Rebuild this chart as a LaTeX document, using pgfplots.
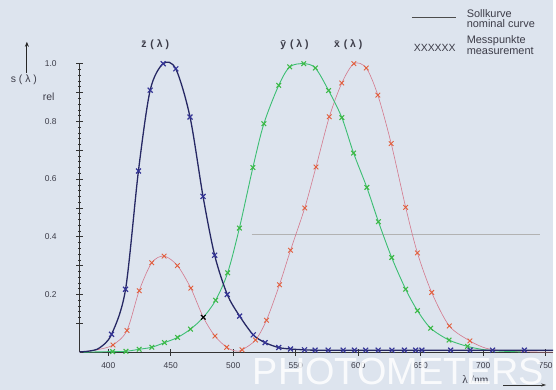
\documentclass[border=0pt]{standalone}
\usepackage{fontspec}
\setmainfont{Liberation Sans}
\newfontfamily\seriffont{Liberation Serif}
\usepackage{pgfplots}
\pgfplotsset{compat=1.18}
\usetikzlibrary{arrows.meta}
\definecolor{bg}{RGB}{221,228,238}
\definecolor{navy}{RGB}{38,40,100}
\definecolor{navymk}{RGB}{52,52,150}
\definecolor{gline}{RGB}{60,190,115}
\definecolor{gmark}{RGB}{60,185,70}
\definecolor{rline}{RGB}{212,120,140}
\definecolor{rmark}{RGB}{226,95,60}
\definecolor{txt}{RGB}{60,60,72}

\begin{document}
\begin{tikzpicture}[x=1pt,y=1pt]
\fill[bg] (0,0) rectangle (556,392);
\draw[black!30, line width=0.5pt] (253,157) -- (543,157);
\begin{axis}[
  at={(80pt,38pt)}, anchor=south west, scale only axis,
  width=476pt, height=290pt,
  xmin=377, xmax=756, ymin=0, ymax=1,
  axis x line=bottom, axis y line=left,
  axis line style={-, black!80, line width=0.8pt},
  xtick={400,450,...,750},
  ytick={0.1,0.2,0.3,0.4,0.5,0.6,0.7,0.8,0.9,1.0},
  yticklabels={,0.2,,0.4,,0.6,,0.8,,1.0},
  minor y tick num=4,
  tick align=center, major tick length=7pt, minor tick length=3pt,
  tick style={black!80, line width=0.6pt},
  every tick label/.append style={font=\fontsize{8.5}{10}\selectfont, text=txt},
  /pgf/number format/assume math mode=true,
  yticklabel style={xshift=-16pt},
  xticklabel style={yshift=-3pt},
  clip=false,
]
% x-bar nominal curve
\addplot[rline, line width=0.6pt, smooth, no marks] coordinates {
(377,0.001) (385,0.004) (393,0.010) (403.7,0.025) (414.9,0.075) (424.7,0.213)
(434.8,0.310) (444.6,0.333) (455.3,0.300) (466.0,0.222) (476.0,0.121)
(485.3,0.056) (494.7,0.017) (502,0.004) (507.0,0.008) (517.8,0.042)
(526.6,0.111) (537.0,0.234) (545.8,0.353) (557.2,0.500) (566.2,0.642)
(576.9,0.816) (586.9,0.933) (596.5,1.000) (606.4,0.985) (615.7,0.891)
(626.4,0.723) (638.0,0.502) (647.4,0.344) (658.8,0.207) (672.9,0.091)
(689.4,0.039) (702,0.014) (715,0.005) (735,0.001) (756,0.000)};
% y-bar nominal curve
\addplot[gline, line width=0.9pt, smooth, no marks] coordinates {
(380,0.000) (392,0.001) (403.4,0.002) (414.1,0.003) (424.7,0.010) (434.8,0.017)
(444.9,0.033) (455.4,0.051) (465.8,0.080) (475.9,0.120) (485.9,0.180)
(495.5,0.275) (504.9,0.430) (515.7,0.640) (524.5,0.792) (536.4,0.925)
(545.2,0.989) (556.4,1.000) (565.7,0.985) (576.3,0.907) (586.9,0.813)
(596.3,0.690) (606.9,0.571) (616.2,0.452) (626.8,0.328) (638.0,0.218)
(647.4,0.144) (658.0,0.083) (672.7,0.042) (687.5,0.020) (700,0.009)
(712,0.004) (730,0.001)};
% z-bar nominal curve
\addplot[navy, line width=1.3pt, smooth, no marks] coordinates {
(377,0.001) (385,0.004) (393,0.015) (402.6,0.062) (413.8,0.218) (424.1,0.628)
(433.5,0.908) (443.9,1.000) (454.0,0.982) (465.4,0.815) (475.8,0.540)
(485.1,0.336) (495.2,0.200) (505.1,0.125) (516.0,0.060) (525.5,0.033)
(536.4,0.016) (545.8,0.011) (557.0,0.008) (565.5,0.007) (600,0.007)
(700,0.007) (756,0.007)};
% measurement points
\addplot[only marks, mark=x, mark size=3.3pt, rmark, mark options={line width=0.9pt}] coordinates {
(403.7,0.025) (414.9,0.075) (424.7,0.213) (434.8,0.310) (444.6,0.333)
(455.3,0.300) (466.0,0.222) (485.3,0.056) (494.7,0.017) (507.0,0.008)
(517.8,0.042) (526.6,0.111) (537.0,0.234) (545.8,0.353) (557.2,0.500)
(566.2,0.642) (576.9,0.816) (586.9,0.933) (596.5,1.000) (606.4,0.985)
(615.7,0.891) (626.4,0.723) (638.0,0.502) (647.4,0.344) (658.8,0.207)
(672.9,0.091) (689.4,0.039)};
\addplot[only marks, mark=x, mark size=3.3pt, gmark, mark options={line width=1.1pt}] coordinates {
(403.4,0.002) (414.1,0.003) (424.7,0.010) (434.8,0.017) (444.9,0.033)
(455.4,0.051) (465.8,0.080) (485.9,0.180) (495.5,0.275) (504.9,0.430)
(515.7,0.640) (524.5,0.792) (536.4,0.925) (545.2,0.989) (556.4,1.000)
(565.7,0.985) (576.3,0.907) (586.9,0.813) (596.3,0.690) (606.9,0.571)
(616.2,0.452) (626.8,0.328) (638.0,0.218) (647.4,0.144) (658.0,0.083)
(672.7,0.042) (687.5,0.020)};
\addplot[only marks, mark=x, mark size=3.5pt, navymk, mark options={line width=1.2pt}] coordinates {
(402.6,0.062) (413.8,0.218) (424.1,0.628) (433.5,0.908) (443.9,1.000)
(454.0,0.982) (465.4,0.815) (475.8,0.540) (485.1,0.336) (495.2,0.200)
(505.1,0.125) (516.0,0.060) (525.5,0.033) (536.4,0.016) (545.8,0.011)
(557.0,0.008) (565.5,0.007) (576.0,0.007) (588.0,0.007) (597.0,0.007)
(606.0,0.007) (616.0,0.007) (627.0,0.007) (637.0,0.007) (646.0,0.007)
(651.0,0.007) (674.0,0.007) (689.5,0.007) (707.5,0.007) (733.0,0.007)};
\addplot[only marks, mark=x, mark size=3.3pt, black, mark options={line width=1.1pt}] coordinates {
(476.0,0.121)};
\end{axis}
% axis annotations
\draw[-{Stealth[length=5pt,width=4pt]}, line width=0.9pt, black!85] (27,319) -- (27,350);
\node[font=\fontsize{10.5}{12}\selectfont, text=txt] at (24,312) {s ( λ )};
\node[font=\fontsize{10.5}{12}\selectfont, text=txt] at (49,295) {rel};
\node[font=\seriffont\fontsize{11.5}{13}\selectfont, text=txt] at (478,10) {λ /nm};
\draw[-{Stealth[length=5pt,width=3pt]}, line width=0.6pt, black!80] (506,5) -- (549,5);
% curve labels
\node[font=\bfseries\fontsize{10.5}{12}\selectfont, text=txt] at (156,347) {\={z}\kern1pt{} ( λ )};
\node[font=\bfseries\fontsize{10.5}{12}\selectfont, text=txt] at (296,347) {\={y}\kern1pt{} ( λ )};
\node[font=\bfseries\fontsize{10.5}{12}\selectfont, text=txt] at (350,347) {\={x}\kern1pt{} ( λ )};
% legend
\draw[black!70, line width=0.6pt] (414,375) -- (458,375);
\node[anchor=west, align=left, font=\fontsize{11}{10.5}\selectfont, text=txt, inner sep=0pt] at (469,373.5) {Sollkurve\\nominal curve};
\node[font=\fontsize{10.5}{11}\selectfont, text=txt] at (437,344) {XXXXXX};
\node[anchor=west, align=left, font=\fontsize{11}{10.5}\selectfont, text=txt, inner sep=0pt] at (469,346.5) {Messpunkte\\measurement};
% watermark
\node[anchor=west, text=white, opacity=0.85, inner sep=0pt, font=\fontsize{38}{40}\selectfont] at (254,18.5) {PHOTOMETERS};
\end{tikzpicture}
\end{document}
